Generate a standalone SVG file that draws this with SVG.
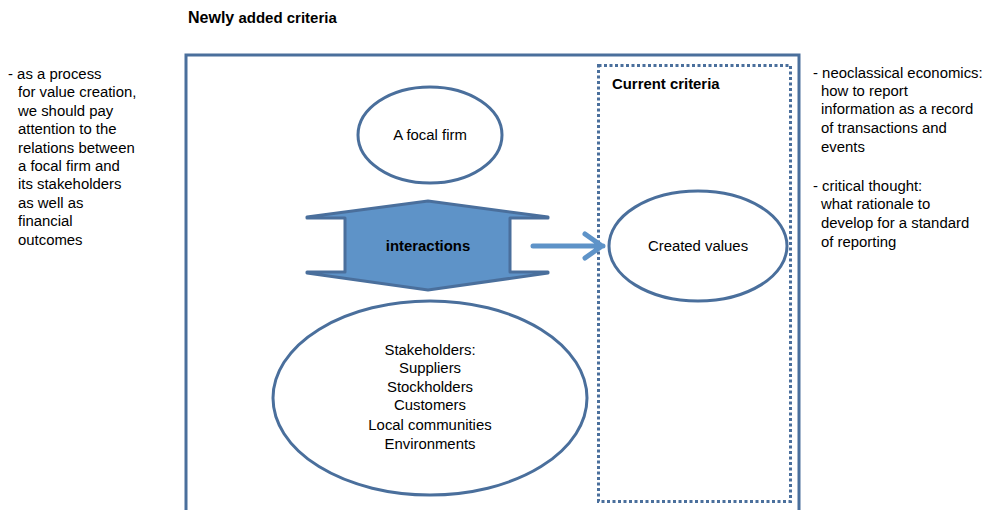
<svg xmlns="http://www.w3.org/2000/svg" width="985" height="510" viewBox="0 0 985 510">
<style>
text{font-family:"Liberation Sans",Arial,sans-serif;fill:#000}
.t{font-size:14.9px}
.n{font-size:14.9px;text-anchor:middle}
.e{fill:#fff;stroke:#4a6f9c;stroke-width:3}
</style>
<rect width="985" height="510" fill="#fff"/>
<text x="188" y="23" font-weight="bold"><tspan font-size="16px">Newly</tspan><tspan font-size="15px"> added criteria</tspan></text>
<g id="outer-box"><path d="M186,512 L186,55 L799,55 L799,512" fill="none" stroke="#4a6f9c" stroke-width="3"/></g>
<g id="current-criteria"><rect x="598.5" y="65.5" width="192" height="436" fill="none" stroke="#4a6f9c" stroke-width="3" stroke-dasharray="3,2.5"/>
<text x="612" y="89" font-weight="bold" font-size="14.9px">Current criteria</text></g>
<g id="focal-firm"><ellipse class="e" cx="430" cy="135" rx="72" ry="48"/><text class="n" x="430" y="140">A focal firm</text></g>
<g id="created-values"><ellipse class="e" cx="698" cy="246" rx="89" ry="55"/><text class="n" x="698" y="251">Created values</text></g>
<g id="stakeholders"><ellipse class="e" cx="430" cy="398" rx="157" ry="97"/>
<text class="n" x="430" y="355">Stakeholders:</text>
<text class="n" x="430" y="373">Suppliers</text>
<text class="n" x="430" y="392">Stockholders</text>
<text class="n" x="430" y="410">Customers</text>
<text class="n" x="430" y="430">Local communities</text>
<text class="n" x="430" y="449">Environments</text></g>
<g id="interactions"><polygon points="307,217 428,201 548,217 548,218 510,218 510,272 548,272 548,273 428,290 307,273 307,272 345,272 345,218 307,218" fill="#5e93c8" stroke="#4a6f9c" stroke-width="3" stroke-linejoin="round"/>
<text x="428" y="251" text-anchor="middle" font-weight="bold" font-size="14.9px">interactions</text></g>
<g id="connectors"><path d="M533,246 L603,246 M585,234 L602,246 L585,258" fill="none" stroke="#5e93c8" stroke-width="5" stroke-linecap="round" stroke-linejoin="round"/></g>
<g id="left-notes" class="t">
<text x="8" y="79">- as a process</text>
<text x="18" y="97">for value creation,</text>
<text x="18" y="116">we should pay</text>
<text x="18" y="134">attention to the</text>
<text x="18" y="153">relations between</text>
<text x="18" y="171">a focal firm and</text>
<text x="18" y="189">its stakeholders</text>
<text x="18" y="208">as well as</text>
<text x="18" y="226">financial</text>
<text x="18" y="245">outcomes</text>
</g>
<g id="right-notes" class="t">
<text x="813" y="78">- neoclassical economics:</text>
<text x="821" y="96">how to report</text>
<text x="821" y="114">information as a record</text>
<text x="821" y="133">of transactions and</text>
<text x="821" y="152">events</text>
<text x="813" y="191">- critical thought:</text>
<text x="821" y="209">what rationale to</text>
<text x="821" y="228">develop for a standard</text>
<text x="821" y="247">of reporting</text>
</g>
</svg>
